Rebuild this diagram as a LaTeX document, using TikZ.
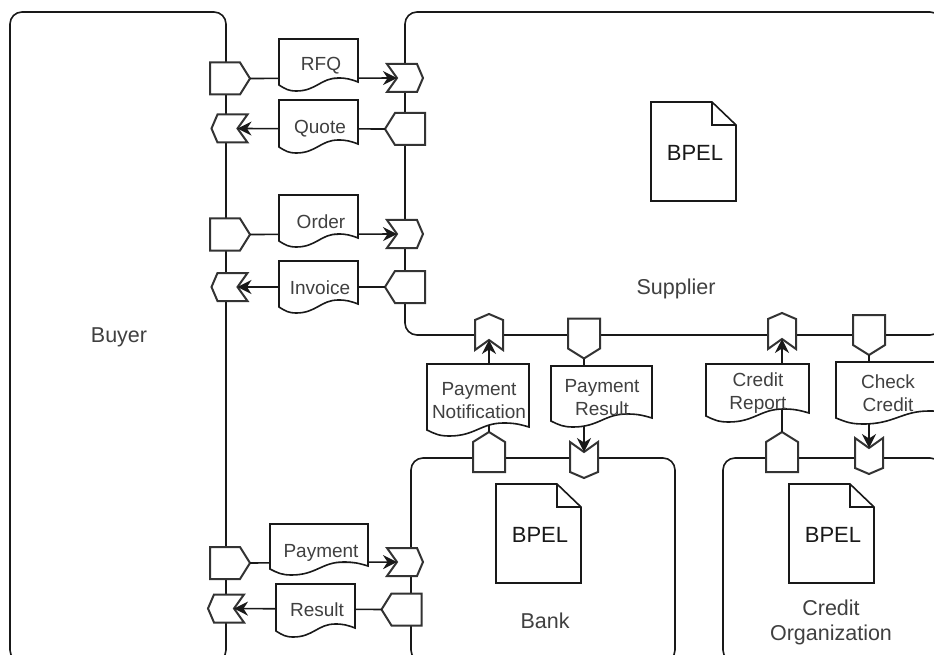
\documentclass[tikz,border=0pt]{standalone}
\usepackage{fontspec}
\setmainfont{Liberation Sans}
\usetikzlibrary{arrows.meta}
\tikzset{
  laneline/.style={draw=black!90, line width=1.6pt, rounded corners=12pt},
  portline/.style={draw=black!80, line width=2pt, fill=white, line join=miter},
  flowline/.style={draw=black!90, line width=1.6pt},
  flowarrow/.style={flowline, -{Stealth[length=14pt,width=14pt]}},
  docline/.style={draw=black!90, line width=1.6pt, fill=white},
  txtlabel/.style={text=black!75, font=\fontsize{19}{23}\selectfont, align=center, inner sep=0pt, yshift=-2pt},
  lanelabel/.style={txtlabel, font=\fontsize{21.5}{25}\selectfont},
  bpellabel/.style={text=black!90, font=\fontsize{22}{26}\selectfont, inner sep=0pt, yshift=-1pt}
}
% port tip points along the angle
\newcommand{\sendport}[4]{
\draw [portline, shift={(#2,#3)}, rotate=#4] (-20,-16) -- (10,-16) -- (20,0) -- (10,16) -- (-20,16) -- cycle;
\path [shift={(#2,#3)}, rotate=#4] coordinate (#1) at (20,0);
}
\newcommand{\recvport}[4]{
\draw [portline, shift={(#2,#3)}, rotate=#4] (-18,-14) -- (12,-14) -- (18,0) -- (12,14) -- (-18,14) -- (-8,0) -- cycle;
\path [shift={(#2,#3)}, rotate=#4] coordinate (#1) at (-8,0);
}
% name, x0, y0, x1, y1, label x, label y, label
\newcommand{\msgdoc}[8]{
\pgfmathsetmacro{\docw}{#4-#2}
\draw [docline] (#2,#3) coordinate (#1) -- (#4,#3) -- (#4,#5-9)
  .. controls +({-.1*\docw},-3) and +({.1*\docw},0) .. ({#2+.75*\docw},#5-13)
  .. controls +({-.22*\docw},0) and +({.25*\docw},0) .. ({#2+.22*\docw},#5)
  .. controls +({-.1*\docw},0) and +({.08*\docw},4) .. (#2,#5-6) -- cycle;
\node [txtlabel] (#1label) at (#6,#7) {#8};
}
\newcommand{\bpeldoc}[4]{
\draw [docline] (#2,#3) -- (#2+61,#3) -- (#2+85,#3+23) -- (#2+85,#3+99) -- (#2,#3+99) -- cycle;
\draw [docline, fill=none] (#2+61,#3) -- (#2+61,#3+23) -- (#2+85,#3+23);
\node [bpellabel] (#1) at (#2+44,#3+50) {#4};
}
\begin{document}
\begin{tikzpicture}[x=1pt,y=-1pt]
\useasboundingbox (0,0) rectangle (934,655);
\clip (0,0) rectangle (934,655);
\fill [white] (0,0) rectangle (934,655);

% participants
\draw [laneline] (10,12) rectangle (226,662);
\draw [laneline] (405,12) rectangle (942,335);
\draw [laneline] (411,458) rectangle (675,662);
\draw [laneline] (723,458) rectangle (942,662);

\node [lanelabel] (buyer) at (119,335) {Buyer};
\node [lanelabel] (supplier) at (676,287) {Supplier};
\node [lanelabel] (bank) at (545,619) {Bank};
\node [lanelabel] (creditorg) at (831,620) {Credit\\Organization};

\bpeldoc{bpelsupplier}{651}{102}{BPEL}
\bpeldoc{bpelbank}{496}{484}{BPEL}
\bpeldoc{bpelcredit}{789}{484}{BPEL}

% ports
\sendport{rfqout}{230}{78.5}{0}
\recvport{rfqin}{405}{78}{0}
\sendport{quoteout}{405}{129}{180}
\recvport{quotein}{229.5}{128.5}{180}
\sendport{orderout}{230}{234.5}{0}
\recvport{orderin}{405}{234}{0}
\sendport{invoiceout}{405}{287}{180}
\recvport{invoicein}{229.5}{287}{180}
\sendport{paymentout}{230}{563}{0}
\recvport{paymentin}{405}{562}{0}
\sendport{resultout}{401.5}{609.5}{180}
\recvport{resultin}{226}{608.5}{180}
\sendport{notifyout}{489}{452}{90}
\recvport{notifyin}{489}{332}{90}
\sendport{payresout}{584}{338.5}{270}
\recvport{payresin}{584}{460}{270}
\sendport{reportout}{782}{452}{90}
\recvport{reportin}{782}{331}{90}
\sendport{checkout}{869}{335}{270}
\recvport{checkin}{869}{456}{270}

% flows
\draw [flowarrow] (rfqout) -- (rfqin);
\draw [flowarrow] (quoteout) -- (quotein);
\draw [flowarrow] (orderout) -- (orderin);
\draw [flowarrow] (invoiceout) -- (invoicein);
\draw [flowarrow] (paymentout) -- (paymentin);
\draw [flowarrow] (resultout) -- (resultin);
\draw [flowarrow] (notifyout) -- (notifyin);
\draw [flowarrow] (payresout) -- (payresin);
\draw [flowarrow] (reportout) -- (reportin);
\draw [flowarrow] (checkout) -- (checkin);

% messages
\msgdoc{rfqdoc}{279}{39}{358}{91}{321}{64}{RFQ}
\msgdoc{quotedoc}{279}{100}{358}{153}{320}{127}{Quote}
\msgdoc{orderdoc}{279}{195}{358}{247}{321}{220}{Order}
\msgdoc{invoicedoc}{279}{261}{358}{313}{320}{286}{Invoice}
\msgdoc{paymentdoc}{270}{524}{368}{575}{321}{551}{Payment}
\msgdoc{resultdoc}{276}{584}{355}{637}{317}{608}{Result}
\msgdoc{notifydoc}{427}{364}{529}{436}{479}{399}{Payment\\Notification}
\msgdoc{payresdoc}{551}{366}{652}{427}{602}{396}{Payment\\Result}
\msgdoc{reportdoc}{706}{364}{809}{422}{758}{391}{Credit\\Report}
\msgdoc{checkdoc}{836}{362}{960}{424}{888}{391}{Check\\Credit}
\end{tikzpicture}
\end{document}
